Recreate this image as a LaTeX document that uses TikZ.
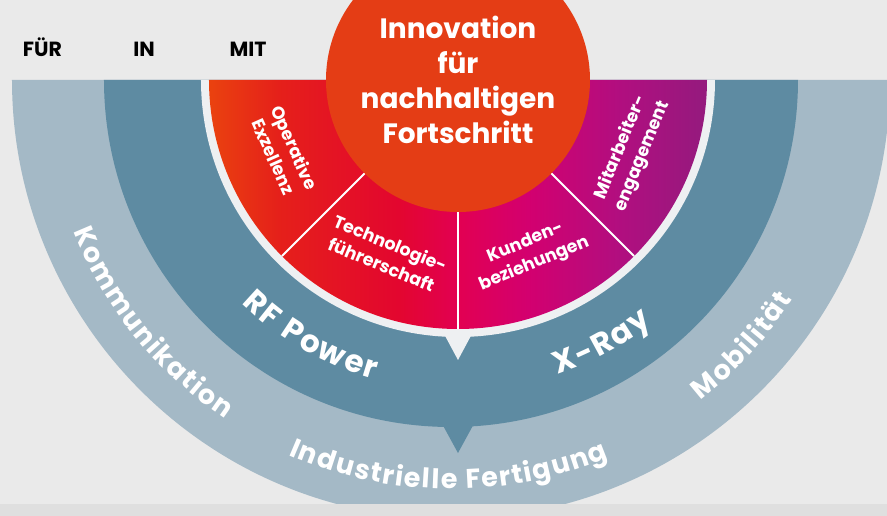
\documentclass[tikz,border=0pt]{standalone}
\usepackage{fontspec}
\setmainfont{Poppins}
\usetikzlibrary{decorations.text}

\definecolor{bggrey}{HTML}{EAEAEA}
\definecolor{stripgrey}{HTML}{DFDFDF}
\definecolor{outerring}{HTML}{A4B9C6}
\definecolor{innerring}{HTML}{5E8BA2}
\definecolor{gapring}{HTML}{EEF0F2}
\definecolor{corered}{HTML}{E43D15}
\definecolor{gradA}{HTML}{EA420F}
\definecolor{gradB}{HTML}{E5201A}
\definecolor{gradC}{HTML}{E3062F}
\definecolor{gradD}{HTML}{E20052}
\definecolor{gradE}{HTML}{D3006F}
\definecolor{gradF}{HTML}{B20E7F}
\definecolor{gradG}{HTML}{941A7E}
\pgfdeclarehorizontalshading{fieldshade}{100bp}{color(0bp)=(gradA); color(25bp)=(gradA); color(32bp)=(gradB); color(44bp)=(gradC); color(50bp)=(gradD); color(57bp)=(gradE); color(66bp)=(gradF); color(75bp)=(gradG); color(100bp)=(gradG)}

\newcommand{\outerfont}{\fontsize{27}{27}\selectfont\bfseries\kern1.5pt}
\newcommand{\innerfont}{\fontsize{31}{31}\selectfont\bfseries\kern1.8pt}

\begin{document}
\begin{tikzpicture}[x=1pt, y=1pt,
  tag/.style={font=\fontsize{20.5}{20.5}\selectfont\bfseries, text=black, anchor=base},
  field/.style={font=\fontsize{17.5}{23}\selectfont\bfseries, text=white, align=center},
  outerlabel/.style={decorate, decoration={text along path, text align=center, text color=white, text={|\outerfont|#1}}},
  innerlabel/.style={decorate, decoration={text along path, text align=center, text color=white, text={|\innerfont|#1}}},
  divider/.style={draw=white, line width=1.8pt}]
  \useasboundingbox (-458,-436) rectangle (429,80);
  \clip (-458,-436) rectangle (429,80);
  \fill[bggrey] (-458,-436) rectangle (429,80);
  \coordinate (c) at (0,0);
  \coordinate (c2) at (-7,0);

  % rings, outside in
  \fill[outerring] (c2) ++(180:439) arc[start angle=180, end angle=360, radius=439] -- cycle;
  \fill[innerring] (c2) ++(180:347) arc[start angle=180, end angle=360, radius=347] -- cycle;
  \fill[innerring] (-18,-340) -- (18,-340) -- (0,-373) -- cycle;
  \fill[gapring] (c) ++(180:257) arc[start angle=180, end angle=360, radius=257] -- cycle;
  \fill[gapring] (-15,-252) -- (15,-252) -- (0,-280) -- cycle;
  \shade[shading=fieldshade] (c) ++(180:249) arc[start angle=180, end angle=360, radius=249] -- cycle;
  \foreach \a in {225,270,315}
    \draw[divider] (c) ++(\a:120) -- ++(\a:129);
  \fill[corered] (c) circle[radius=132];
  \fill[stripgrey] (-458,-436) rectangle (429,-424);

  % labels
  \node[tag] (fuer) at (-415.5,23) {FÜR};
  \node[tag] (tagin) at (-314,23) {IN};
  \node[tag] (mit) at (-210,23) {MIT};
  \node[font=\fontsize{28}{35}\selectfont\bfseries, text=white, align=center] (core) at (c) {Innovation\\für\\nachhaltigen\\Fortschritt};

  \node[field, rotate=-66] (opex) at (202.5:188) {Operative\\Exzellenz};
  \node[field, rotate=-22.5] (techlead) at (247.5:188) {Technologie-\\führerschaft};
  \node[field, rotate=22.5] (kunden) at (292.5:188) {Kunden-\\beziehungen};
  \node[field, rotate=67.5] (mitarb) at (337.5:188) {Mitarbeiter-\\engagement};

  \path[innerlabel=RF Power] (c) ++(202:311) arc[start angle=202, end angle=278, radius=311];
  \path[innerlabel=X-Ray] (c) ++(265:311) arc[start angle=265, end angle=332, radius=311];

  \path[outerlabel=Kommunikation] (c2) ++(177:407) arc[start angle=177, end angle=261, radius=407];
  \path[outerlabel=Industrielle Fertigung] (c2) ++(222:409) arc[start angle=222, end angle=317, radius=409];
  \path[outerlabel=Mobilität] (c2) ++(285:406) arc[start angle=285, end angle=350, radius=406];
\end{tikzpicture}
\end{document}
